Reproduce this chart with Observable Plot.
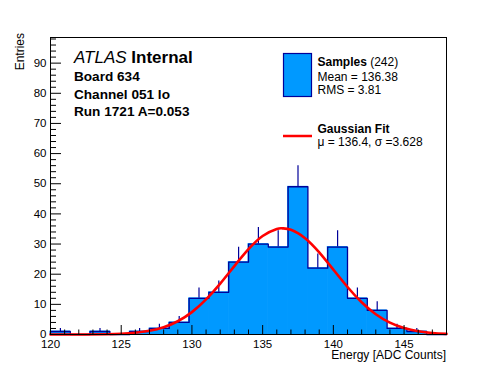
<!DOCTYPE html>
<html>
<head>
<meta charset="utf-8">
<script src="https://cdn.jsdelivr.net/npm/d3@7"></script>
<script src="https://cdn.jsdelivr.net/npm/@observablehq/plot@0.6"></script>
<style>
  html, body { margin: 0; padding: 0; background: #fff; }
  #chart { width: 496px; height: 372px; }
</style>
</head>
<body>
<div id="chart"></div>
<script>
// ---- data ----
const binEdges = [120, 121.4, 122.8, 124.2, 125.6, 127, 128.4, 129.8, 131.2, 132.6, 134,
                  135.4, 136.8, 138.2, 139.6, 141, 142.4, 143.8, 145.2, 146.6, 148];
const counts   = [1, 0, 1, 0, 1, 2, 4, 12, 14, 24, 30, 29, 49, 22, 29, 12, 8, 2, 1, 0];
const errors   = [1, 0, 1, 0, 1, 1.41, 2, 3.46, 3.74, 4.9, 5.48, 5.39, 7, 4.69, 5.39, 3.46, 2.83, 1.41, 1, 0];
const fitX = [120, 122, 124, 125, 126, 127, 128, 129, 130, 131, 132, 133, 134, 135, 136, 136.4,
              137, 138, 139, 140, 141, 142, 143, 144, 145, 146, 147, 148];
const fitY = [0.0, 0.01, 0.1, 0.25, 0.58, 1.23, 2.41, 4.4, 7.43, 11.63, 16.87, 22.69, 28.28, 32.67, 34.99, 35.2,
              34.72, 31.94, 27.23, 21.51, 15.76, 10.69, 6.73, 3.92, 2.12, 1.06, 0.49, 0.21];
const xMajor = [120, 125, 130, 135, 140, 145];
const xMinor = [121,122,123,124,126,127,128,129,131,132,133,134,136,137,138,139,141,142,143,144,146,147];
const yMajor = [0, 10, 20, 30, 40, 50, 60, 70, 80, 90];
const yMinor = [2,4,6,8,12,14,16,18,22,24,26,28,32,34,36,38,42,44,46,48,52,54,56,58,62,64,66,68,72,74,76,78,82,84,86,88,92,94,96,98];
const xTitle = "Energy [ADC Counts]";
const yTitle = "Entries";
const infoLines = ["Board 634", "Channel 051 lo", "Run 1721 A=0.053"];
const legendSamples = {name: "Samples", n: "(242)", lines: ["Mean = 136.38", "RMS = 3.81"]};
const legendFit = {name: "Gaussian Fit", line: "\u03bc = 136.4, \u03c3 =3.628"};

// ---- derived tables ----
const bins = counts.map((c, i) => ({x1: binEdges[i], x2: binEdges[i + 1], xc: (binEdges[i] + binEdges[i + 1]) / 2, count: c, err: errors[i]}));
const outline = [{x: binEdges[0], y: 0}]
  .concat(counts.map((c, i) => ({x: binEdges[i], y: c})))
  .concat([{x: binEdges[binEdges.length - 1], y: counts[counts.length - 1]}, {x: binEdges[binEdges.length - 1], y: 0}]);
const fit = fitX.map((x, i) => ({x, y: fitY[i]}));

const W = 496, H = 372, mL = 50, mR = 50, mT = 37, mB = 38;
const iw = W - mL - mR, ih = H - mT - mB;
const font = "'Liberation Sans', Arial, Helvetica, sans-serif";
const blue = "#0099ff", dark = "#000099";

const chart = Plot.plot({
  width: W, height: H,
  marginLeft: mL, marginRight: mR, marginTop: mT, marginBottom: mB,
  style: {fontFamily: font, background: "#fff", color: "#000", overflow: "visible"},
  x: {domain: [120, 148]},
  y: {domain: [0, 98.5]},
  marks: [
    Plot.rectY(bins.filter(d => d.count > 0), {x1: "x1", x2: "x2", y: "count", fill: blue, stroke: blue, strokeWidth: 0.8}),
    Plot.ruleX(bins.filter(d => d.count > 0), {x: "xc", y1: "count", y2: d => d.count + d.err, stroke: dark, strokeWidth: 1.2}),
    Plot.line(outline, {x: "x", y: "y", curve: "step-after", stroke: dark, strokeWidth: 1.3}),
    Plot.line(fit, {x: "x", y: "y", curve: "natural", stroke: "#ff0000", strokeWidth: 2.6}),
    Plot.tickY(yMajor, {y: d => d, insetRight: iw - 11, stroke: "#000"}),
    Plot.tickY(yMinor, {y: d => d, insetRight: iw - 6, stroke: "#000"}),
    Plot.tickX(xMajor, {x: d => d, insetTop: ih - 9, stroke: "#000"}),
    Plot.tickX(xMinor, {x: d => d, insetTop: ih - 4.5, stroke: "#000"}),
    Plot.axisY({ticks: yMajor, tickSize: 0, tickPadding: 4, fontSize: 11.5, label: null}),
    Plot.axisX({ticks: xMajor, tickSize: 0, tickPadding: 5, fontSize: 11.5, label: null}),
    Plot.frame({stroke: "#000", strokeWidth: 1})
  ]
});
document.getElementById("chart").appendChild(chart);

// ---- annotations: titles, ATLAS label, legend ----
const svg = d3.select(chart);
const g = svg.append("g").attr("font-family", font).attr("fill", "#000").attr("text-anchor", "start");

g.append("text").attr("x", 446).attr("y", 359).attr("text-anchor", "end").attr("font-size", 12).text(xTitle);
g.append("text").attr("transform", "translate(23.5,33) rotate(-90)").attr("text-anchor", "end").attr("font-size", 12).text(yTitle);

const atlas = g.append("text").attr("x", 74).attr("y", 63).attr("font-size", 17);
atlas.append("tspan").attr("font-style", "italic").text("ATLAS");
atlas.append("tspan").attr("font-weight", "bold").text(" Internal");
infoLines.forEach((t, i) => {
  g.append("text").attr("x", 74).attr("y", 81 + i * 17.5).attr("font-size", 13.6).attr("font-weight", "bold").text(t);
});

g.append("rect").attr("x", 283.5).attr("y", 53.5).attr("width", 28).attr("height", 43).attr("fill", blue).attr("stroke", dark).attr("stroke-width", 1.2);
const s = g.append("text").attr("x", 317.5).attr("y", 66).attr("font-size", 12);
s.append("tspan").attr("font-weight", "bold").text(legendSamples.name);
s.append("tspan").text(" " + legendSamples.n);
legendSamples.lines.forEach((t, i) => {
  g.append("text").attr("x", 317.5).attr("y", 81 + i * 12.5).attr("font-size", 12).text(t);
});
g.append("line").attr("x1", 283).attr("x2", 312).attr("y1", 136).attr("y2", 136).attr("stroke", "#ff0000").attr("stroke-width", 2.5);
g.append("text").attr("x", 317.5).attr("y", 133).attr("font-size", 12).attr("font-weight", "bold").text(legendFit.name);
g.append("text").attr("x", 317.5).attr("y", 145.5).attr("font-size", 12).text(legendFit.line);
</script>
</body>
</html>
